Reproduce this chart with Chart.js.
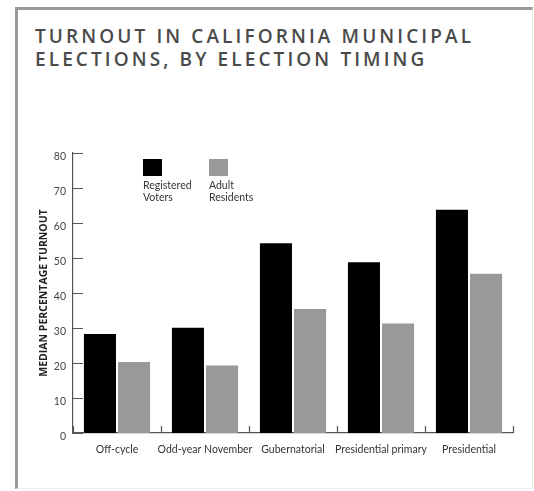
<!DOCTYPE html>
<html>
<head>
<meta charset="utf-8">
<script src="https://cdn.jsdelivr.net/npm/chart.js@4/dist/chart.umd.min.js"></script>
<style>
  html, body { margin: 0; padding: 0; background: #fff; }
  #wrap { position: relative; width: 534px; height: 491px; overflow: hidden; }
  #frame {
    position: absolute; left: 15px; top: 7px; width: 514px; height: 478px;
    border-left: 3px solid #9a9a9a; border-top: 3px solid #9a9a9a;
    border-right: 1px solid #eee; border-bottom: 1px solid #eee;
  }
  #title {
    position: absolute; left: 35px; top: 25px;
    font-family: "Open Sans", sans-serif; font-weight: 600; font-size: 19px;
    line-height: 23px; letter-spacing: 3.1px; color: #4a4a4a; white-space: nowrap;
  }
  canvas { position: absolute; left: 0; top: 0; }
</style>
</head>
<body>
<div id="wrap">
  <div id="frame"></div>
  <div id="title">TURNOUT IN CALIFORNIA MUNICIPAL<br>ELECTIONS, BY ELECTION TIMING</div>
  <canvas id="chart" width="534" height="491"></canvas>
</div>
<script>
// --- data ---
const categories = ['Off-cycle', 'Odd-year November', 'Gubernatorial', 'Presidential primary', 'Presidential'];
const registeredVoters = [28.3, 30.1, 54.2, 48.8, 63.8];
const adultResidents = [20.3, 19.3, 35.4, 31.3, 45.5];
const seriesNames = [['Registered', 'Voters'], ['Adult', 'Residents']];
const yTicks = [0, 10, 20, 30, 40, 50, 60, 70, 80];

const axisColor = '#555';
const tickFont = { family: 'Lato, "Open Sans", sans-serif', size: 10.5 };

// inward ticks on the y axis, small separators on the x axis, custom legend
const decorations = {
  id: 'decorations',
  afterDraw(chart) {
    const ctx = chart.ctx;
    const x = chart.scales.x, y = chart.scales.y;
    const area = chart.chartArea;
    ctx.save();
    ctx.strokeStyle = axisColor;
    ctx.lineWidth = 1.2;
    ctx.beginPath();
    yTicks.forEach(v => {
      const py = Math.round(y.getPixelForValue(v)) + 0.5;
      ctx.moveTo(area.left, py);
      ctx.lineTo(area.left + 10, py);
    });
    for (let i = 0; i <= categories.length; i++) {
      const px = Math.round(x.getPixelForValue(i - 0.5)) + 0.5;
      ctx.moveTo(px, area.bottom);
      ctx.lineTo(px, area.bottom - 7);
    }
    ctx.stroke();

    // legend: box above, two-line text below
    const spots = [143, 209];
    ctx.font = '10.5px Lato, "Open Sans", sans-serif';
    ctx.textBaseline = 'middle';
    chart.data.datasets.forEach((ds, i) => {
      ctx.fillStyle = ds.backgroundColor;
      ctx.fillRect(spots[i], 159, 19, 17);
      ctx.fillStyle = '#333';
      seriesNames[i].forEach((line, j) => ctx.fillText(line, spots[i], 186 + j * 12));
    });
    ctx.restore();
  }
};

new Chart(document.getElementById('chart'), {
  type: 'bar',
  data: {
    labels: categories,
    datasets: [
      { label: seriesNames[0].join(' '), data: registeredVoters, backgroundColor: '#000' },
      { label: seriesNames[1].join(' '), data: adultResidents, backgroundColor: '#999' }
    ]
  },
  options: {
    responsive: false,
    animation: false,
    events: [],
    layout: { padding: { left: 0, top: 153, right: 21, bottom: 0 } },
    categoryPercentage: 0.775,
    barPercentage: 0.94,
    plugins: { legend: { display: false }, tooltip: { enabled: false } },
    scales: {
      x: {
        grid: { display: false, drawTicks: false },
        border: { color: axisColor, width: 1.2 },
        ticks: { color: '#333', font: tickFont, padding: 10, maxRotation: 0, autoSkip: false },
        afterFit(s) { s.height = 58; }
      },
      y: {
        min: 0, max: 80,
        afterBuildTicks(s) { s.ticks = yTicks.map(v => ({ value: v })); },
        grid: { display: false, drawTicks: false },
        border: { color: axisColor, width: 1.2 },
        ticks: { color: '#444', font: tickFont, padding: 7, labelOffset: 4 },
        title: {
          display: true, text: 'MEDIAN PERCENTAGE TURNOUT', color: '#222',
          font: { family: '"Open Sans", sans-serif', size: 10.5, weight: 'bold' },
          padding: { top: 38, bottom: 0 }
        },
        afterFit(s) { s.width = 73; }
      }
    }
  },
  plugins: [decorations]
});
</script>
</body>
</html>
